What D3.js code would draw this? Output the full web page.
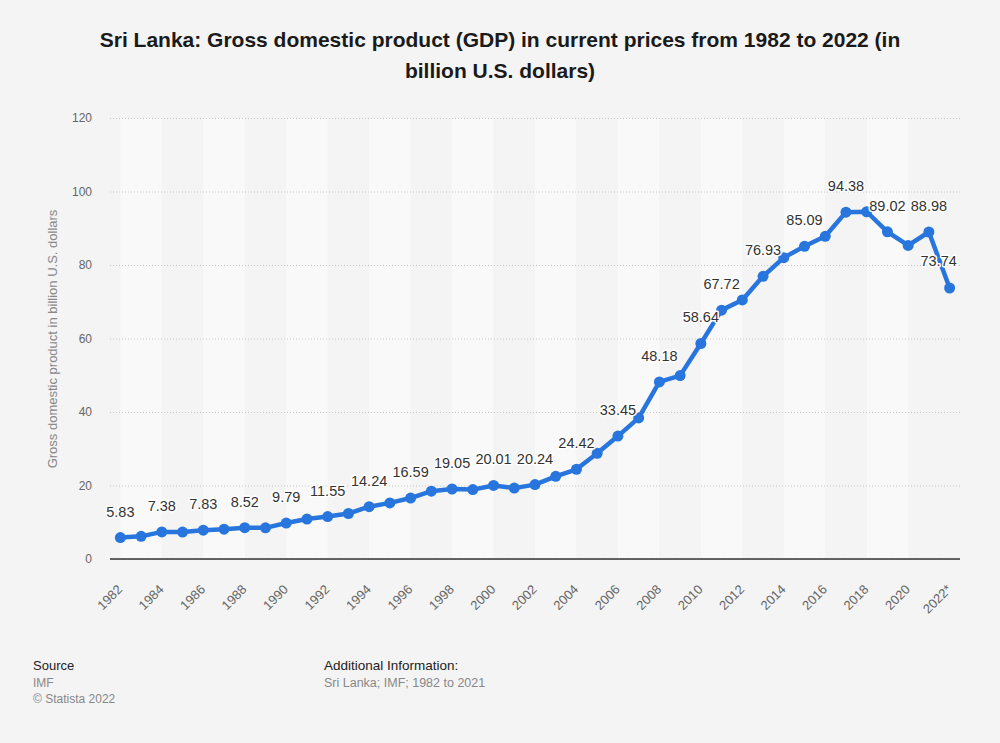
<!doctype html>
<html lang="en">
<head>
    <meta charset="utf-8">
    <title>Sri Lanka GDP</title>
    <script src="https://cdnjs.cloudflare.com/ajax/libs/d3/7.8.5/d3.min.js"></script>
    <style>
        body {
            margin: 0;
            background: #f4f4f4;
        }
        svg text {
            font-family: "Liberation Sans", Arial, Helvetica, sans-serif;
        }
    </style>
</head>
<body>
    <div id="chart"></div>
    <script>
        // years on the x axis (last one is a forecast)
        var years = ['1982', '1983', '1984', '1985', '1986', '1987', '1988', '1989', '1990', '1991',
            '1992', '1993', '1994', '1995', '1996', '1997', '1998', '1999', '2000', '2001',
            '2002', '2003', '2004', '2005', '2006', '2007', '2008', '2009', '2010', '2011',
            '2012', '2013', '2014', '2015', '2016', '2017', '2018', '2019', '2020', '2021', '2022*'];

        // GDP in billion U.S. dollars
        var gdp = [5.83, 6.17, 7.38, 7.34, 7.83, 8.12, 8.52, 8.48, 9.79, 10.87,
            11.55, 12.38, 14.24, 15.27, 16.59, 18.46, 19.05, 18.88, 20.01, 19.29,
            20.24, 22.5, 24.42, 28.77, 33.45, 38.4, 48.18, 49.9, 58.64, 67.72,
            70.5, 76.93, 82.0, 85.09, 87.8, 94.38, 94.49, 89.02, 85.31, 88.98, 73.74];

        // which points carry a value label
        var labelled = ['1982', '1984', '1986', '1988', '1990', '1992', '1994', '1996', '1998', '2000',
            '2002', '2004', '2006', '2008', '2010', '2011', '2013', '2015', '2017', '2019', '2021', '2022*'];

        var yTicks = [0, 20, 40, 60, 80, 100, 120];
        var xTickLabels = years.filter(function(d, i) { return i % 2 === 0; });

        var width = 1000;
        var height = 743;
        var plotLeft = 110, plotRight = 960, plotTop = 118, plotBottom = 559;

        var svg = d3.select('#chart')
            .append('svg')
            .attr('width', width)
            .attr('height', height);

        var xScale = d3.scalePoint()
            .domain(years)
            .range([plotLeft, plotRight])
            .padding(0.5);

        var yScale = d3.scaleLinear()
            .domain([0, 120])
            .range([plotBottom, plotTop]);

        // alternating column bands, two years wide
        var bands = [];
        for (var i = 0; i + 2 < years.length; i += 2) {
            bands.push({from: years[i], to: years[i + 2], light: (i / 2) % 2 === 0});
        }
        svg.append('g')
            .selectAll('rect')
            .data(bands)
            .enter()
            .append('rect')
            .attr('x', function(d) { return xScale(d.from); })
            .attr('width', function(d) { return xScale(d.to) - xScale(d.from); })
            .attr('y', plotTop)
            .attr('height', plotBottom - plotTop)
            .attr('fill', function(d) { return d.light ? '#f9f9f9' : '#f4f4f4'; });

        // title
        svg.append('text')
            .attr('x', 500).attr('y', 47)
            .attr('text-anchor', 'middle')
            .attr('font-size', 21).attr('font-weight', 'bold').attr('fill', '#1a1a1a')
            .text('Sri Lanka: Gross domestic product (GDP) in current prices from 1982 to 2022 (in');
        svg.append('text')
            .attr('x', 500).attr('y', 78)
            .attr('text-anchor', 'middle')
            .attr('font-size', 21).attr('font-weight', 'bold').attr('fill', '#1a1a1a')
            .text('billion U.S. dollars)');

        // y axis with dotted grid
        var yAxis = d3.axisLeft(yScale)
            .tickValues(yTicks)
            .tickSize(-(plotRight - plotLeft))
            .tickPadding(18);

        var yG = svg.append('g')
            .attr('transform', 'translate(' + plotLeft + ',0)')
            .call(yAxis);
        yG.select('.domain').remove();
        yG.selectAll('.tick line')
            .attr('stroke', '#c8c8c8')
            .attr('stroke-dasharray', '1,2');
        yG.selectAll('.tick text')
            .attr('font-size', 12)
            .attr('fill', '#666');

        svg.append('text')
            .attr('transform', 'translate(57,339) rotate(-90)')
            .attr('text-anchor', 'middle')
            .attr('font-size', 13)
            .attr('fill', '#888')
            .text('Gross domestic product in billion U.S. dollars');

        // x axis
        var xAxis = d3.axisBottom(xScale)
            .tickValues(xTickLabels)
            .tickSize(0)
            .tickPadding(10);

        var xG = svg.append('g')
            .attr('transform', 'translate(0,' + plotBottom + ')')
            .call(xAxis);
        xG.select('.domain')
            .attr('d', 'M' + plotLeft + ',0H' + plotRight)
            .attr('stroke', '#333')
            .attr('stroke-width', 1.5);
        xG.selectAll('.tick text')
            .attr('font-size', 13)
            .attr('fill', '#666')
            .attr('text-anchor', 'end')
            .attr('y', 0)
            .attr('dy', '0.35em')
            .attr('transform', 'translate(-1,28) rotate(-45)');

        // line and points
        var line = d3.line()
            .x(function(d, i) { return xScale(years[i]); })
            .y(function(d) { return yScale(d); });

        svg.append('path')
            .datum(gdp)
            .attr('fill', 'none')
            .attr('stroke', '#2876dd')
            .attr('stroke-width', 4.5)
            .attr('stroke-linejoin', 'round')
            .attr('d', line);

        svg.append('g')
            .selectAll('circle')
            .data(gdp)
            .enter()
            .append('circle')
            .attr('cx', function(d, i) { return xScale(years[i]); })
            .attr('cy', function(d) { return yScale(d); })
            .attr('r', 5.5)
            .attr('fill', '#2876dd');

        // value labels
        var labels = years.map(function(y, i) { return {year: y, value: gdp[i]}; })
            .filter(function(d) { return labelled.indexOf(d.year) >= 0; });

        svg.append('g')
            .selectAll('text')
            .data(labels)
            .enter()
            .append('text')
            .attr('x', function(d) {
                var x = xScale(d.year);
                return d.year === '2022*' ? x - 11 : x;
            })
            .attr('y', function(d) {
                return d.year === '2022*' ? yScale(d.value) - 22 : yScale(d.value) - 21;
            })
            .attr('text-anchor', 'middle')
            .attr('font-size', 14.5)
            .attr('fill', '#333')
            .attr('stroke', '#ffffff')
            .attr('stroke-width', 3)
            .attr('stroke-linejoin', 'round')
            .attr('paint-order', 'stroke')
            .text(function(d) { return d.value.toFixed(2); });

        // footer
        svg.append('text').attr('x', 33).attr('y', 670)
            .attr('font-size', 13).attr('fill', '#222').text('Source');
        svg.append('text').attr('x', 33).attr('y', 687)
            .attr('font-size', 12).attr('fill', '#888').text('IMF');
        svg.append('text').attr('x', 33).attr('y', 703)
            .attr('font-size', 12).attr('fill', '#888').text('\u00a9 Statista 2022');
        svg.append('text').attr('x', 324).attr('y', 670)
            .attr('font-size', 13.5).attr('fill', '#222').text('Additional Information:');
        svg.append('text').attr('x', 324).attr('y', 687)
            .attr('font-size', 12.5).attr('fill', '#888').text('Sri Lanka; IMF; 1982 to 2021');
    </script>
</body>
</html>
